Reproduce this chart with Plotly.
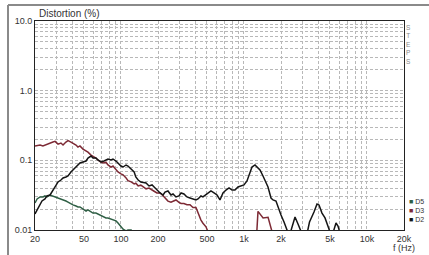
import plotly.graph_objects as go

# ---- data ----
d2_freq = [20, 20.8, 22.0, 22.8, 24.1, 25.0, 26.5, 28.0, 29.1, 30.8, 32.5, 33.8, 35.7, 37.1, 39.2, 40.7,
           43.1, 44.7, 46.4, 49.1, 52.0, 53.9, 57.1, 59.2, 62.6, 65.0, 68.8, 72.8, 75.5, 78.4, 83.0, 86.1,
           91.1, 94.6, 100, 104, 110, 114, 121, 128, 132, 138, 145, 154, 160, 169, 179, 186, 196, 208,
           220, 228, 241, 255, 265, 280, 296, 308, 325, 344, 364, 385, 407, 423, 447, 464, 491, 510,
           539, 571, 604, 638, 675, 714, 756, 799, 845, 894, 946, 1000, 1058, 1099, 1162, 1229, 1300,
           1350, 1428, 1510, 1568, 1659, 1722, 1821, 1926, 2000, 2116, 2238, 2367, 2504, 2600, 2750,
           2855, 2963, 3254, 3410, 3709, 3924, 4074, 4308, 4559, 4822, 5004, 5296, 5600, 5812, 6035]
d2_vals = [0.0170, 0.0194, 0.0244, 0.0261, 0.0279, 0.0308, 0.0318, 0.0375, 0.0401, 0.0489, 0.0522, 0.0558,
           0.0577, 0.0596, 0.0680, 0.0726, 0.0802, 0.0857, 0.0916, 0.0946, 0.0978, 0.1080, 0.1154, 0.1080,
           0.1080, 0.1011, 0.0946, 0.0978, 0.1011, 0.1045, 0.1011, 0.1045, 0.0978, 0.0916, 0.0829, 0.0802,
           0.0857, 0.0829, 0.0751, 0.0680, 0.0577, 0.0522, 0.0489, 0.0473, 0.0473, 0.0428, 0.0443, 0.0414,
           0.0375, 0.0340, 0.0318, 0.0351, 0.0363, 0.0318, 0.0329, 0.0298, 0.0308, 0.0340, 0.0329, 0.0298,
           0.0288, 0.0279, 0.0270, 0.0279, 0.0308, 0.0298, 0.0318, 0.0340, 0.0363, 0.0340, 0.0318, 0.0270,
           0.0340, 0.0375, 0.0401, 0.0375, 0.0375, 0.0414, 0.0428, 0.0443, 0.0505, 0.0616, 0.0802, 0.0857,
           0.0776, 0.0726, 0.0596, 0.0473, 0.0414, 0.0288, 0.0270, 0.0261, 0.0194, 0.0164, 0.0130, 0.0100,
           0.0088, 0.0130, 0.0154, 0.0122, 0.0100, 0.0088, 0.0088, 0.0130, 0.0181, 0.0236, 0.0229, 0.0175,
           0.0149, 0.0114, 0.0094, 0.0091, 0.0126, 0.0114, 0.0091]

d3_freq = [20, 22.0, 23.2, 25.0, 26.5, 28.0, 29.1, 30.8, 32.5, 33.8, 35.7, 37.1, 39.2, 40.7, 43.1, 44.7,
           46.4, 49.1, 52.0, 53.9, 57.1, 59.2, 62.6, 65.0, 68.8, 72.8, 75.5, 78.4, 83.0, 86.1, 91.1, 94.6,
           100, 104, 110, 114, 121, 128, 132, 138, 145, 154, 160, 169, 179, 186, 196, 208, 220, 228, 241,
           255, 265, 280, 296, 308, 325, 344, 364, 385, 407, 423, 447, 464, 491, 510,
           None, 1270, 1300, 1430, 1570, 1690]
d3_vals = [0.161, 0.166, 0.161, 0.171, 0.177, 0.183, 0.187, 0.171, 0.177, 0.166, 0.183, 0.192, 0.183, 0.177,
           0.166, 0.155, 0.161, 0.145, 0.136, 0.131, 0.119, 0.115, 0.108, 0.101, 0.094, 0.092, 0.094, 0.086,
           0.080, 0.083, 0.075, 0.068, 0.064, 0.062, 0.056, 0.051, 0.049, 0.046, 0.047, 0.043, 0.044, 0.041,
           0.039, 0.040, 0.038, 0.036, 0.034, 0.034, 0.031, 0.029, 0.026, 0.025, 0.026, 0.027, 0.025, 0.024,
           0.024, 0.023, 0.023, 0.021, 0.021, 0.0175, 0.0139, 0.0125, 0.0111, 0.0094,
           None, 0.009, 0.0185, 0.0149, 0.0152, 0.0095]

d5_freq = [20, 20.8, 22.0, 23.2, 24.1, 25.0, 26.5, 28.0, 29.1, 30.8, 32.5, 33.8, 35.7, 37.1, 39.2, 40.7,
           43.1, 44.7, 46.4, 49.1, 52.0, 53.9, 57.1, 59.2, 62.6, 65.0, 68.8, 72.8, 75.5, 78.4, 83.0, 86.1,
           91.1, 94.6, 100, 104, 110, 114, 121, 128]
d5_vals = [0.0244, 0.0279, 0.0298, 0.0298, 0.0308, 0.0298, 0.0318, 0.0308, 0.0298, 0.0288, 0.0279, 0.0270,
           0.0261, 0.0252, 0.0236, 0.0229, 0.0221, 0.0214, 0.0214, 0.0200, 0.0187, 0.0194, 0.0181, 0.0175,
           0.0175, 0.0170, 0.0159, 0.0154, 0.0149, 0.0149, 0.0144, 0.0139, 0.0135, 0.0126, 0.0114, 0.0103,
           0.0097, 0.0100, 0.0100, 0.0091]

series_names = ["D5", "D3", "D2"]
series_colors = ["#2f5f45", "#7d2a35", "#151515"]

x_grid = [20, 30, 40, 50, 60, 70, 80, 90, 100, 200, 300, 400, 500, 600, 700, 800, 900,
          1000, 2000, 3000, 4000, 5000, 6000, 7000, 8000, 9000, 10000, 20000]
x_labels = {20: "20", 50: "50", 100: "100", 200: "200", 500: "500", 1000: "1k",
            2000: "2k", 5000: "5k", 10000: "10k", 20000: "20k"}
y_grid = [0.01, 0.02, 0.03, 0.04, 0.05, 0.06, 0.07, 0.08, 0.09,
          0.1, 0.2, 0.3, 0.4, 0.5, 0.6, 0.7, 0.8, 0.9,
          1, 2, 3, 4, 5, 6, 7, 8, 9, 10]
y_labels = {0.01: "0.01", 0.1: "0.1", 1: "1.0", 10: "10.0"}

FONT = "Liberation Sans, Arial, sans-serif"

fig = go.Figure()
for name, fx, vy, col in [("D5", d5_freq, d5_vals, series_colors[0]),
                          ("D3", d3_freq, d3_vals, series_colors[1]),
                          ("D2", d2_freq, d2_vals, series_colors[2])]:
    fig.add_trace(go.Scatter(x=fx, y=vy, mode="lines", name=name,
                             line=dict(color=col, width=1.5), connectgaps=False,
                             showlegend=False))

axis_style = dict(type="log", showgrid=True, gridcolor="#b8b8b8", griddash="3px,2px", gridwidth=1,
                  showline=True, linecolor="#222", linewidth=1, mirror=True,
                  ticks="", zeroline=False,
                  tickfont=dict(family=FONT, size=9, color="#333"))
fig.update_xaxes(range=[1.30103, 4.30103],
                 tickvals=x_grid, ticktext=[x_labels.get(v, "") for v in x_grid], **axis_style)
fig.update_yaxes(range=[-2, 1],
                 tickvals=y_grid, ticktext=[y_labels.get(v, "") for v in y_grid], **axis_style)

# plot area in pixels: x 35..404, y 21..230
def px_x(p):
    return (p - 35) / 369.0

def px_y(p):
    return (230 - p) / 209.0

legend_text = "<br>".join(
    f"<span style='color:{c}'>■</span> {n}" for n, c in zip(series_names, series_colors))

annotations = [
    dict(text="Distortion (%)", x=px_x(37), y=px_y(14), xref="paper", yref="paper",
         xanchor="left", yanchor="middle", showarrow=False,
         font=dict(family=FONT, size=10, color="#333")),
    dict(text="f (Hz)", x=px_x(404), y=px_y(248), xref="paper", yref="paper",
         xanchor="center", yanchor="middle", showarrow=False,
         font=dict(family=FONT, size=9, color="#333")),
    dict(text="S<br>T<br>E<br>P<br>S", x=px_x(408), y=px_y(22), xref="paper", yref="paper",
         xanchor="center", yanchor="top", showarrow=False,
         font=dict(family=FONT, size=6.5, color="#8a8a8a")),
    dict(text=legend_text, x=px_x(408), y=px_y(197), xref="paper", yref="paper",
         xanchor="left", yanchor="top", align="left", showarrow=False, borderpad=0,
         font=dict(family=FONT, size=7, color="#333")),
]

shapes = [
    dict(type="line", xref="paper", yref="paper", x0=px_x(8), x1=px_x(8), y0=px_y(255), y1=px_y(5),
         line=dict(color="#8a8a8a", width=2)),
    dict(type="line", xref="paper", yref="paper", x0=px_x(8), x1=px_x(429), y0=px_y(5), y1=px_y(5),
         line=dict(color="#8a8a8a", width=2)),
]

fig.update_layout(width=429, height=255,
                  margin=dict(l=35, r=25, t=21, b=25, autoexpand=False),
                  paper_bgcolor="white", plot_bgcolor="white",
                  annotations=annotations, shapes=shapes, showlegend=False)

fig.write_html("out.html", config={"displayModeBar": False},
               post_script="document.body.style.margin='0';document.body.style.overflow='hidden';")
